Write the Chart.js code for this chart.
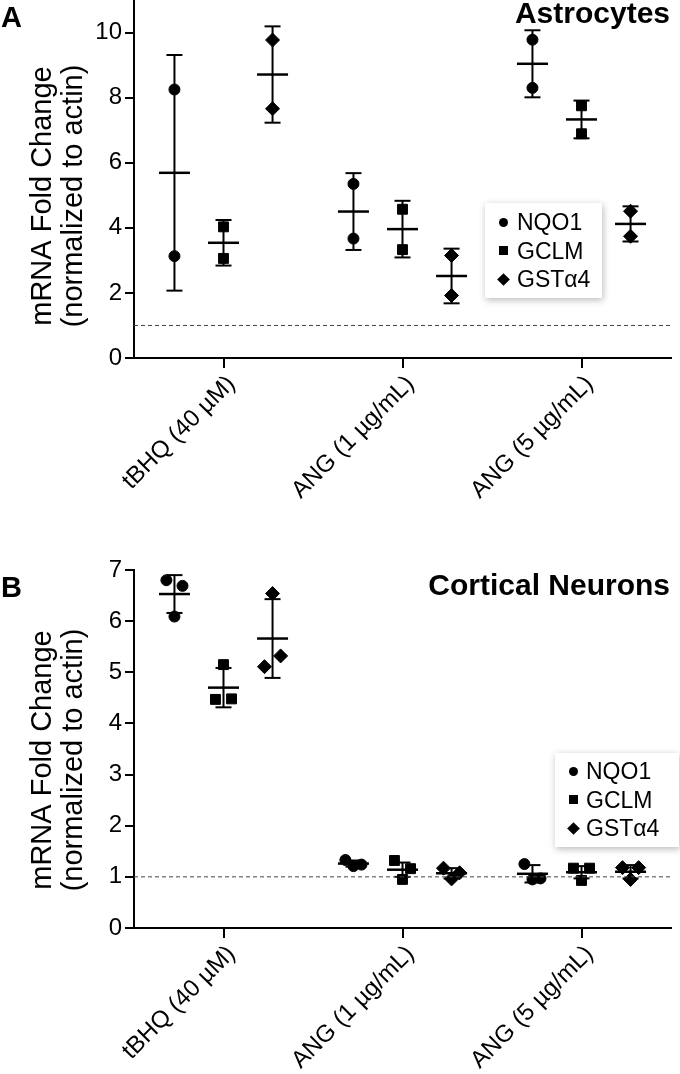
<!DOCTYPE html>
<html>
<head>
<meta charset="utf-8">
<script src="https://cdn.jsdelivr.net/npm/chart.js@4.4.0/dist/chart.umd.min.js"></script>
<style>
  body { margin: 0; background: #fff; font-family: 'Liberation Sans', Arial, sans-serif; }
  #wrap { position: relative; width: 680px; height: 1074px; overflow: hidden; }
  canvas { position: absolute; left: 0; }
  #chartA { top: 0; }
  #chartB { top: 540px; }
  .legend { position: absolute; background: #fff; box-shadow: 1px 2px 7px rgba(0,0,0,0.28); font-size: 23px; color: #000; }
  .legend .row { position: relative; height: 28.5px; line-height: 28.5px; }
  .legend .mk { position: absolute; background: #000; top: 50%; }
  .mk.circle { width: 9px; height: 9px; border-radius: 50%; margin-top: -4.5px; }
  .mk.rect { width: 9px; height: 9px; margin-top: -4.5px; }
  .mk.rectRot { width: 9px; height: 9px; margin-top: -4.5px; transform: rotate(45deg); }
  #legendA { left: 485px; top: 203px; width: 117px; height: 95px; padding-top: 5px; box-sizing: border-box; }
  #legendB { left: 555px; top: 753px; width: 124px; height: 94px; padding-top: 4px; box-sizing: border-box; }
</style>
</head>
<body>
<div id="wrap">
  <canvas id="chartA" width="680" height="540"></canvas>
  <canvas id="chartB" width="680" height="534"></canvas>
  <div class="legend" id="legendA"></div>
  <div class="legend" id="legendB"></div>
</div>
<script>
const categories = ['tBHQ (40 µM)', 'ANG (1 µg/mL)', 'ANG (5 µg/mL)'];
const genes = ['NQO1', 'GCLM', 'GSTα4'];
const markers = ['circle', 'rect', 'rectRot'];
const markerSize = [5.5, 7, 7];
const baseline = 1;

// A: astrocytes, two replicates per group
const astroNQO1 = [[8.25, 3.13], [5.35, 3.67], [9.78, 8.30]];
const astroGCLM = [[4.03, 3.06], [4.57, 3.33], [7.75, 6.89]];
const astroGST = [[9.77, 7.66], [3.15, 1.92], [4.51, 3.74]];
const astroMeanNQO1 = [5.69, 4.50, 9.04];
const astroMeanGCLM = [3.54, 3.96, 7.33];
const astroMeanGST = [8.71, 2.52, 4.12];
const astroSdNQO1 = [3.62, 1.18, 1.03];
const astroSdGCLM = [0.70, 0.87, 0.58];
const astroSdGST = [1.48, 0.84, 0.54];
const astroTicks = [0, 2, 4, 6, 8, 10];

// B: cortical neurons, three replicates per group (left, right, middle)
const neuroNQO1 = [[6.80, 6.69, 6.09], [1.33, 1.24, 1.21], [1.25, 0.97, 0.95]];
const neuroGCLM = [[4.47, 4.48, 5.15], [1.32, 1.16, 0.95], [1.17, 1.17, 0.93]];
const neuroGST = [[5.11, 5.32, 6.54], [1.17, 1.08, 0.96], [1.18, 1.18, 0.95]];
const neuroMeanNQO1 = [6.53, 1.26, 1.06];
const neuroMeanGCLM = [4.70, 1.14, 1.09];
const neuroMeanGST = [5.66, 1.07, 1.10];
const neuroSdNQO1 = [0.37, 0.06, 0.17];
const neuroSdGCLM = [0.385, 0.14, 0.12];
const neuroSdGST = [0.77, 0.10, 0.13];
const neuroTicks = [0, 1, 2, 3, 4, 5, 6, 7];

const family = "'Liberation Sans', Arial, sans-serif";
const xMin = 0.5, xMax = 3.5;
const groupOffset = 0.274;
const jitterA = [0, 0];
const jitterB = [-0.045, 0.045, 0];

function buildDatasets(pointSets, meanSets, sdSets, jitter) {
  const ds = [{
    data: [{x: xMin, y: baseline}, {x: xMax, y: baseline}],
    showLine: true, borderColor: '#444', borderWidth: 1, borderDash: [4, 3], pointRadius: 0
  }];
  genes.forEach((g, gi) => {
    const off = (gi - 1) * groupOffset;
    categories.forEach((c, ci) => {
      const x = ci + 1 + off;
      const m = meanSets[gi][ci], sd = sdSets[gi][ci];
      ds.push({
        data: [{x: x, y: m - sd}, {x: x, y: m + sd}],
        showLine: true, borderColor: '#000', borderWidth: 2,
        pointStyle: 'line', pointRadius: 8, pointBorderWidth: 2, pointBorderColor: '#000'
      });
    });
    ds.push({
      data: meanSets[gi].map((m, ci) => ({x: ci + 1 + off, y: m})),
      pointStyle: 'line', pointRadius: 15.5, pointBorderWidth: 2.5, pointBorderColor: '#000'
    });
    const pts = [];
    pointSets[gi].forEach((reps, ci) => {
      reps.forEach((v, ri) => pts.push({x: ci + 1 + off + jitter[ri], y: v}));
    });
    ds.push({
      label: g, data: pts, pointStyle: markers[gi], pointRadius: markerSize[gi],
      pointBackgroundColor: '#000', pointBorderColor: '#000', pointBorderWidth: 1
    });
  });
  return ds;
}

const panelText = {
  id: 'panelText',
  afterDraw(chart, args, opts) {
    const ctx = chart.ctx;
    ctx.save();
    ctx.fillStyle = '#000';
    ctx.font = 'bold 29px ' + family;
    ctx.textBaseline = 'alphabetic';
    ctx.textAlign = 'left';
    ctx.fillText(opts.letter, 1, opts.letterY);
    ctx.font = 'bold 30px ' + family;
    ctx.textAlign = 'right';
    ctx.fillText(opts.title, chart.chartArea.right - 1, opts.titleY);
    ctx.font = '29px ' + family;
    ctx.textAlign = 'center';
    ctx.textBaseline = 'middle';
    opts.yTitle.forEach((line, i) => {
      ctx.save();
      ctx.translate(opts.yTitleX[i], opts.yTitleY);
      ctx.rotate(-Math.PI / 2);
      ctx.fillText(line, 0, 0);
      ctx.restore();
    });
    ctx.restore();
  }
};

function makeOptions(cfg) {
  return {
    responsive: false,
    animation: false,
    events: [],
    layout: { autoPadding: false, padding: { top: cfg.padTop, right: 9, left: 0, bottom: 0 } },
    plugins: {
      legend: { display: false },
      tooltip: { enabled: false },
      panelText: {
        letter: cfg.letter, letterY: cfg.letterY, title: cfg.title, titleY: cfg.titleY,
        yTitle: ['mRNA Fold Change', '(normalized to actin)'], yTitleX: [43, 74], yTitleY: cfg.yTitleY
      }
    },
    scales: {
      x: {
        type: 'linear', min: xMin, max: xMax,
        afterBuildTicks: s => { s.ticks = categories.map((c, i) => ({value: i + 1})); },
        afterFit: s => { s.height = cfg.xHeight; s.paddingLeft = 0; s.paddingRight = 0; },
        grid: { display: true, drawOnChartArea: false, drawTicks: true, tickLength: 10, color: '#000', lineWidth: 2 },
        border: { display: true, color: '#000', width: 2 },
        ticks: {
          color: '#000', font: { size: 24, family: family }, minRotation: 45, maxRotation: 45,
          autoSkip: false, padding: 2, labelOffset: 8, callback: v => categories[v - 1]
        }
      },
      y: {
        min: 0, max: cfg.yMax,
        afterBuildTicks: s => { s.ticks = cfg.yTicks.map(v => ({value: v})); },
        afterFit: s => { s.width = 134; s.paddingTop = 0; s.paddingBottom = 0; },
        grid: { display: true, drawOnChartArea: false, drawTicks: true, tickLength: 9, color: '#000', lineWidth: 2 },
        border: { display: true, color: '#000', width: 2 },
        ticks: { color: '#000', font: { size: 24, family: family }, padding: 3 }
      }
    }
  };
}

Chart.register(panelText);

const chartA = new Chart(document.getElementById('chartA'), {
  type: 'scatter',
  data: {
    datasets: buildDatasets(
      [astroNQO1, astroGCLM, astroGST],
      [astroMeanNQO1, astroMeanGCLM, astroMeanGST],
      [astroSdNQO1, astroSdGCLM, astroSdGST], jitterA)
  },
  options: makeOptions({ padTop: 0, xHeight: 182, yMax: 11, yTicks: astroTicks,
    letter: 'A', letterY: 27, title: 'Astrocytes', titleY: 23, yTitleY: 196 })
});

const chartB = new Chart(document.getElementById('chartB'), {
  type: 'scatter',
  data: {
    datasets: buildDatasets(
      [neuroNQO1, neuroGCLM, neuroGST],
      [neuroMeanNQO1, neuroMeanGCLM, neuroMeanGST],
      [neuroSdNQO1, neuroSdGCLM, neuroSdGST], jitterB)
  },
  options: makeOptions({ padTop: 30, xHeight: 146, yMax: 7, yTicks: neuroTicks,
    letter: 'B', letterY: 57, title: 'Cortical Neurons', titleY: 55, yTitleY: 220 })
});

// legends as html boxes
['legendA', 'legendB'].forEach((id, li) => {
  const box = document.getElementById(id);
  genes.forEach((g, gi) => {
    const row = document.createElement('div');
    row.className = 'row';
    row.style.paddingLeft = (li === 0 ? 32 : 31) + 'px';
    const mk = document.createElement('span');
    mk.className = 'mk ' + markers[gi];
    mk.style.left = '14px';
    row.appendChild(mk);
    row.appendChild(document.createTextNode(g));
    box.appendChild(row);
  });
});
</script>
</body>
</html>
